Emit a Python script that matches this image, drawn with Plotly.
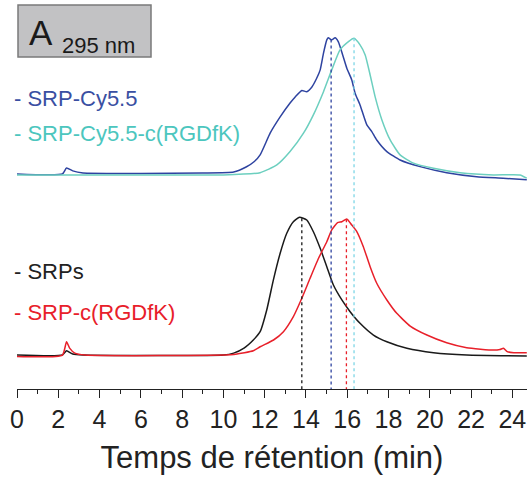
import numpy as np
import plotly.graph_objects as go

# retention times (min) and normalised absorbance at 295 nm
t_cy55 = [0.0, 2.2, 2.4, 2.7, 3.2, 6.0, 9.0, 10.5, 11.1, 11.5, 11.78, 12.27, 12.75, 13.23, 13.48,
          13.80, 14.04, 14.28, 14.52, 14.69, 14.85, 15.01, 15.08, 15.25, 15.41, 15.57, 15.78,
          15.98, 16.22, 16.38, 16.62, 16.95, 17.19, 17.43, 17.92, 18.56, 19.53, 20.82, 22.27,
          23.55, 24.7]
a_cy55 = [0.0, 0.0, 0.043, 0.022, 0.007, 0.004, 0.007, 0.014, 0.05, 0.09, 0.138, 0.297, 0.413,
          0.514, 0.558, 0.604, 0.596, 0.628, 0.693, 0.754, 0.875, 0.971, 0.986, 0.971, 0.986,
          0.957, 0.862, 0.766, 0.681, 0.585, 0.5, 0.355, 0.307, 0.246, 0.162, 0.101, 0.053,
          0.009, -0.02, -0.031, -0.043]

t_cy55_rgd = [0.0, 5.0, 10.0, 11.78, 12.59, 13.23, 13.88, 14.36, 14.85, 15.25, 15.65, 16.06,
              16.33, 16.62, 16.87, 17.11, 17.35, 17.68, 18.08, 18.56, 19.21, 20.18, 21.47,
              23.08, 24.37, 24.7]
a_cy55_rgd = [-0.007, -0.007, -0.007, 0.009, 0.065, 0.162, 0.295, 0.428, 0.596, 0.754, 0.899,
              0.959, 0.983, 0.935, 0.862, 0.717, 0.56, 0.391, 0.246, 0.138, 0.078, 0.041,
              0.009, -0.007, -0.007, -0.031]

t_srp = [0.0, 2.2, 2.4, 2.7, 3.2, 10.0, 10.5, 11.0, 11.45, 11.78, 12.1, 12.42, 12.75, 13.07,
         13.39, 13.69, 14.04, 14.36, 14.69, 15.01, 15.33, 15.74, 16.14, 16.62, 17.27, 17.92,
         18.89, 20.18, 21.79, 24.7]
a_srp = [0.0, 0.0, 0.031, 0.007, 0.0, 0.0, 0.014, 0.05, 0.109, 0.169, 0.326, 0.543, 0.737,
         0.882, 0.966, 0.998, 0.978, 0.893, 0.773, 0.64, 0.507, 0.399, 0.314, 0.23, 0.145,
         0.096, 0.049, 0.017, 0.0, -0.007]

t_srp_rgd = [0.0, 2.2, 2.4, 2.55, 2.8, 3.3, 10.5, 11.45, 11.78, 12.43, 12.91, 13.39, 13.8,
             14.2, 14.61, 15.01, 15.25, 15.53, 15.74, 15.98, 16.22, 16.47, 16.78, 17.11,
             17.43, 17.92, 18.4, 19.05, 19.86, 20.82, 21.79, 23.08, 23.4, 23.57, 23.75,
             24.07, 24.7]
a_srp_rgd = [-0.01, 0.0, 0.096, 0.05, 0.014, 0.0, 0.004, 0.031, 0.06, 0.109, 0.169, 0.278,
             0.411, 0.556, 0.701, 0.821, 0.906, 0.959, 0.966, 0.986, 0.942, 0.893, 0.785,
             0.64, 0.52, 0.399, 0.302, 0.21, 0.145, 0.089, 0.053, 0.036, 0.04, 0.049, 0.025,
             0.017, 0.017]

# peak maxima marked with dotted lines
peak_t = [13.80, 15.22, 15.96, 16.33]

names = ["- SRP-Cy5.5", "- SRP-Cy5.5-c(RGDfK)", "- SRPs", "- SRP-c(RGDfK)"]
offsets = [1.312, 1.312, 0.0, 0.0]
line_cols = ["#2E43A0", "#6CCFBF", "#1A1A1A", "#E8202A"]
text_cols = ["#3A4FA2", "#4CC6BE", "#222222", "#E8202A"]
drop_cols = ["#1A1A1A", "#2E43A0", "#E8202A", "#7ED6E6"]

FONT = "Arial, Liberation Sans, sans-serif"

series = [(t_cy55, a_cy55), (t_cy55_rgd, a_cy55_rgd), (t_srp, a_srp), (t_srp_rgd, a_srp_rgd)]

fig = go.Figure()
for (t, a), off, c, n in zip(series, offsets, line_cols, names):
    fig.add_trace(go.Scatter(x=t, y=np.array(a) + off, mode="lines", name=n,
                             line=dict(color=c, width=1.5, shape="spline", smoothing=0.5),
                             showlegend=False))

# dotted drop lines: peak of which series goes with which time
drop_series = [2, 0, 3, 1]
y_bottom = -0.246
for pt, si, c in zip(peak_t, drop_series, drop_cols):
    t, a = series[si]
    ytop = np.interp(pt, t, a) + offsets[si]
    fig.add_shape(type="line", xref="x", yref="y", x0=pt, x1=pt, y0=ytop, y1=y_bottom,
                  line=dict(color=c, width=1.3, dash="dot"))

# text labels on the left (pixel positions -> paper)
W, H = 527, 479
L, B = 17, 90
pw, ph = W - L, H - B
def px(x):
    return (x - L) / pw
def py(y):
    return (H - B - y) / ph

label_y = [98, 133, 271, 312]
for n, c, yy in zip(names, text_cols, label_y):
    fig.add_annotation(text=n, xref="paper", yref="paper", x=px(12), y=py(yy),
                       xanchor="left", yanchor="middle", showarrow=False,
                       font=dict(size=22, color=c, family=FONT))

# panel box "A 295 nm"
fig.add_shape(type="rect", xref="paper", yref="paper", x0=px(18), x1=px(151), y0=py(5), y1=py(57),
              fillcolor="#C2C2C4", line=dict(color="#7A7A7A", width=1.5), layer="above")
fig.add_annotation(text="A", xref="paper", yref="paper", x=px(27), y=py(33),
                   xanchor="left", yanchor="middle", showarrow=False,
                   font=dict(size=35, color="#1A1A1A", family=FONT))
fig.add_annotation(text="295 nm", xref="paper", yref="paper", x=px(60), y=py(46),
                   xanchor="left", yanchor="middle", showarrow=False,
                   font=dict(size=22, color="#1A1A1A", family=FONT))

fig.update_layout(
    width=W, height=H,
    margin=dict(l=L, r=0, t=0, b=B),
    paper_bgcolor="white", plot_bgcolor="white",
    font=dict(family=FONT, color="#222222"),
    xaxis=dict(range=[0, 24.71], showgrid=False, zeroline=False, automargin=False,
               showline=True, linecolor="#222222", linewidth=1,
               ticks="outside", ticklen=8, tickwidth=1, tickcolor="#222222",
               tick0=0, dtick=2, tickfont=dict(size=25),
               minor=dict(ticks="outside", ticklen=4, dtick=1, tickcolor="#222222", showgrid=False),
               title=dict(text="Temps de rétention (min)", font=dict(size=31), standoff=14)),
    yaxis=dict(range=[-0.246, 2.572], visible=False, automargin=False),
)

# page body has an 8px default margin; drop it so the figure fills the window
fig.write_html("out.html", config={"displayModeBar": False},
               post_script="document.body.style.margin='0px';")
